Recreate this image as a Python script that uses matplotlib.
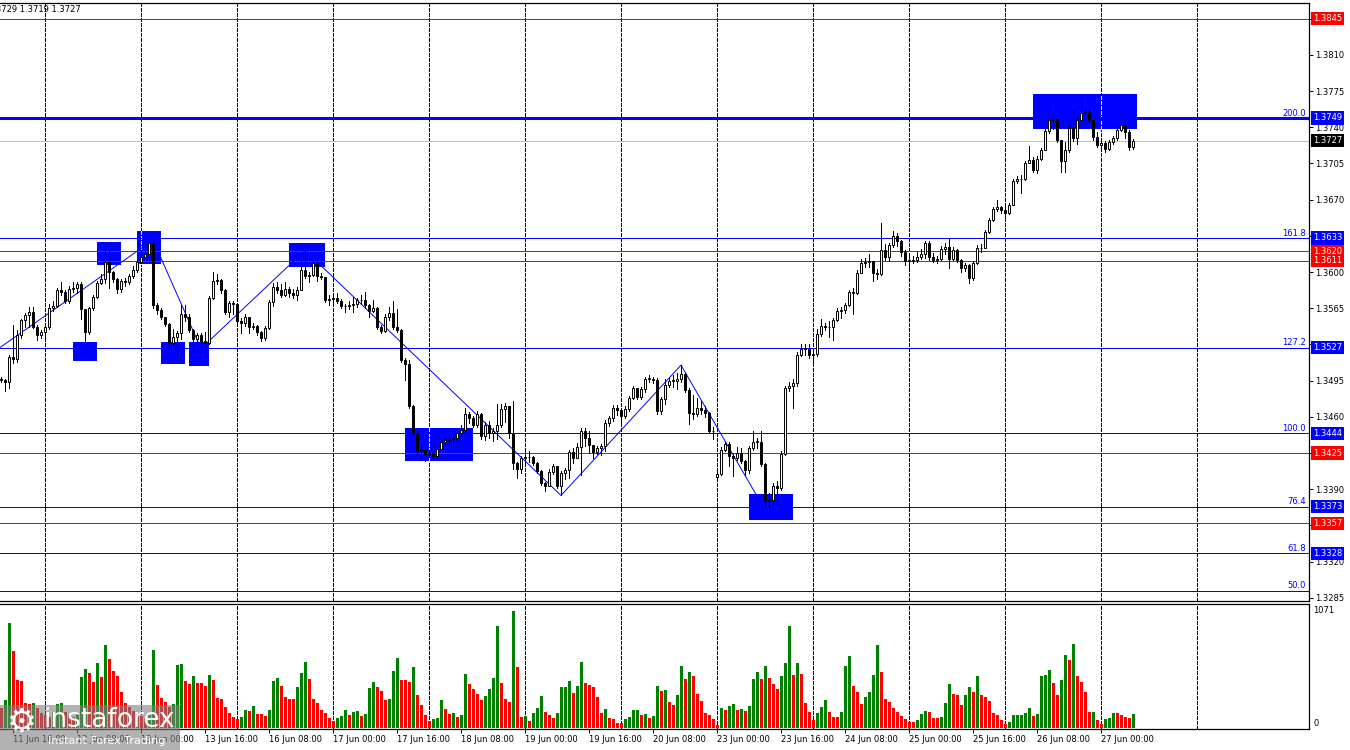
import matplotlib.pyplot as plt
import matplotlib.transforms as mtransforms
from matplotlib.patches import Rectangle
import numpy as np

plt.rcParams['font.family'] = ['DejaVu Sans']

# ---- values (hourly candles, 284 bars) ----
first_open = 1.3497
gap_opens = {179: 1.3402}  # monday open after the weekend gap

closes = [
    1.3496, 1.3494, 1.3518, 1.3516, 1.3539, 1.3554, 1.3558, 1.3561, 1.3547, 1.3539,
    1.3542, 1.3547, 1.3565, 1.3567, 1.3583, 1.3581, 1.3572, 1.3584, 1.3585, 1.3588,
    1.3564, 1.3542, 1.3565, 1.3576, 1.3589, 1.3593, 1.3610, 1.3600, 1.3593, 1.3584,
    1.3591, 1.3590, 1.3596, 1.3602, 1.3610, 1.3615, 1.3617, 1.3628, 1.3568, 1.3563,
    1.3557, 1.3550, 1.3531, 1.3537, 1.3541, 1.3559, 1.3557, 1.3544, 1.3535, 1.3539,
    1.3533, 1.3531, 1.3575, 1.3591, 1.3592, 1.3583, 1.3561, 1.3570, 1.3569, 1.3553,
    1.3551, 1.3557, 1.3547, 1.3548, 1.3542, 1.3536, 1.3546, 1.3571, 1.3586, 1.3583,
    1.3578, 1.3584, 1.3580, 1.3578, 1.3583, 1.3602, 1.3596, 1.3597, 1.3609, 1.3596,
    1.3595, 1.3573, 1.3574, 1.3575, 1.3572, 1.3567, 1.3567, 1.3568, 1.3569, 1.3573,
    1.3573, 1.3568, 1.3562, 1.3565, 1.3547, 1.3543, 1.3557, 1.3560, 1.3547, 1.3544,
    1.3515, 1.3511, 1.3470, 1.3444, 1.3427, 1.3428, 1.3424, 1.3425, 1.3422, 1.3429,
    1.3436, 1.3438, 1.3439, 1.3440, 1.3444, 1.3447, 1.3463, 1.3459, 1.3452, 1.3463,
    1.3441, 1.3452, 1.3444, 1.3446, 1.3452, 1.3468, 1.3470, 1.3444, 1.3415, 1.3410,
    1.3420, 1.3421, 1.3421, 1.3415, 1.3408, 1.3396, 1.3393, 1.3407, 1.3412, 1.3393,
    1.3406, 1.3409, 1.3426, 1.3420, 1.3431, 1.3446, 1.3440, 1.3433, 1.3426, 1.3430,
    1.3432, 1.3454, 1.3459, 1.3469, 1.3467, 1.3461, 1.3468, 1.3478, 1.3488, 1.3479,
    1.3487, 1.3497, 1.3497, 1.3496, 1.3466, 1.3477, 1.3491, 1.3495, 1.3495, 1.3497,
    1.3501, 1.3486, 1.3464, 1.3463, 1.3469, 1.3467, 1.3464, 1.3446, 1.3446, 1.3405,
    1.3428, 1.3434, 1.3422, 1.3420, 1.3425, 1.3417, 1.3409, 1.3430, 1.3436, 1.3436,
    1.3414, 1.3379, 1.3380, 1.3393, 1.3391, 1.3424, 1.3488, 1.3490, 1.3493, 1.3520,
    1.3526, 1.3526, 1.3520, 1.3521, 1.3540, 1.3548, 1.3547, 1.3547, 1.3554, 1.3562,
    1.3563, 1.3568, 1.3581, 1.3580, 1.3599, 1.3609, 1.3610, 1.3611, 1.3599, 1.3598,
    1.3621, 1.3615, 1.3626, 1.3635, 1.3630, 1.3619, 1.3611, 1.3611, 1.3612, 1.3615,
    1.3617, 1.3628, 1.3615, 1.3612, 1.3613, 1.3622, 1.3624, 1.3613, 1.3621, 1.3612,
    1.3604, 1.3607, 1.3594, 1.3609, 1.3623, 1.3623, 1.3639, 1.3650, 1.3661, 1.3663,
    1.3660, 1.3657, 1.3665, 1.3688, 1.3690, 1.3690, 1.3705, 1.3708, 1.3699, 1.3709,
    1.3718, 1.3736, 1.3747, 1.3748, 1.3728, 1.3707, 1.3718, 1.3739, 1.3730, 1.3747,
    1.3754, 1.3755, 1.3747, 1.3731, 1.3723, 1.3725, 1.3719, 1.3726, 1.3730, 1.3737,
    1.3742, 1.3735, 1.3721, 1.3727,
]

highs = [
    1.3499, 1.3497, 1.3520, 1.3549, 1.3544, 1.3555, 1.3560, 1.3566, 1.3566, 1.3549,
    1.3544, 1.3549, 1.3569, 1.3572, 1.3585, 1.3590, 1.3583, 1.3587, 1.3590, 1.3590,
    1.3590, 1.3564, 1.3566, 1.3578, 1.3591, 1.3598, 1.3622, 1.3622, 1.3601, 1.3594,
    1.3593, 1.3594, 1.3598, 1.3606, 1.3612, 1.3620, 1.3620, 1.3630, 1.3631, 1.3570,
    1.3565, 1.3557, 1.3551, 1.3545, 1.3543, 1.3568, 1.3568, 1.3559, 1.3545, 1.3541,
    1.3541, 1.3542, 1.3577, 1.3600, 1.3598, 1.3593, 1.3584, 1.3572, 1.3572, 1.3569,
    1.3556, 1.3559, 1.3557, 1.3551, 1.3549, 1.3543, 1.3548, 1.3573, 1.3589, 1.3590,
    1.3588, 1.3590, 1.3586, 1.3584, 1.3586, 1.3612, 1.3621, 1.3600, 1.3612, 1.3614,
    1.3599, 1.3595, 1.3578, 1.3578, 1.3580, 1.3574, 1.3569, 1.3572, 1.3576, 1.3575,
    1.3578, 1.3581, 1.3569, 1.3573, 1.3566, 1.3549, 1.3559, 1.3566, 1.3572, 1.3564,
    1.3545, 1.3517, 1.3515, 1.3471, 1.3445, 1.3433, 1.3431, 1.3428, 1.3427, 1.3431,
    1.3438, 1.3440, 1.3443, 1.3444, 1.3448, 1.3452, 1.3469, 1.3465, 1.3461, 1.3466,
    1.3464, 1.3455, 1.3456, 1.3449, 1.3472, 1.3472, 1.3473, 1.3470, 1.3475, 1.3416,
    1.3422, 1.3426, 1.3427, 1.3422, 1.3416, 1.3409, 1.3397, 1.3410, 1.3414, 1.3412,
    1.3408, 1.3411, 1.3428, 1.3430, 1.3435, 1.3449, 1.3449, 1.3446, 1.3433, 1.3432,
    1.3434, 1.3457, 1.3461, 1.3471, 1.3471, 1.3467, 1.3470, 1.3480, 1.3490, 1.3488,
    1.3489, 1.3499, 1.3500, 1.3499, 1.3498, 1.3479, 1.3497, 1.3499, 1.3500, 1.3502,
    1.3510, 1.3502, 1.3488, 1.3481, 1.3478, 1.3475, 1.3470, 1.3465, 1.3450, 1.3407,
    1.3431, 1.3436, 1.3436, 1.3424, 1.3431, 1.3430, 1.3418, 1.3432, 1.3446, 1.3440,
    1.3446, 1.3415, 1.3386, 1.3396, 1.3398, 1.3427, 1.3490, 1.3494, 1.3497, 1.3523,
    1.3530, 1.3530, 1.3530, 1.3524, 1.3545, 1.3555, 1.3551, 1.3553, 1.3556, 1.3565,
    1.3566, 1.3570, 1.3583, 1.3585, 1.3602, 1.3613, 1.3614, 1.3617, 1.3611, 1.3603,
    1.3647, 1.3627, 1.3628, 1.3640, 1.3638, 1.3631, 1.3621, 1.3615, 1.3616, 1.3619,
    1.3622, 1.3630, 1.3630, 1.3618, 1.3616, 1.3625, 1.3628, 1.3633, 1.3624, 1.3622,
    1.3613, 1.3609, 1.3608, 1.3611, 1.3626, 1.3627, 1.3641, 1.3652, 1.3663, 1.3670,
    1.3664, 1.3666, 1.3667, 1.3690, 1.3693, 1.3694, 1.3707, 1.3722, 1.3711, 1.3712,
    1.3720, 1.3738, 1.3763, 1.3751, 1.3747, 1.3728, 1.3726, 1.3741, 1.3756, 1.3749,
    1.3770, 1.3761, 1.3758, 1.3746, 1.3735, 1.3727, 1.3727, 1.3728, 1.3732, 1.3740,
    1.3745, 1.3744, 1.3737, 1.3729,
]

lows = [
    1.3494, 1.3485, 1.3488, 1.3512, 1.3513, 1.3536, 1.3547, 1.3547, 1.3546, 1.3534,
    1.3536, 1.3535, 1.3545, 1.3562, 1.3566, 1.3578, 1.3570, 1.3570, 1.3581, 1.3580,
    1.3555, 1.3523, 1.3540, 1.3563, 1.3575, 1.3588, 1.3589, 1.3585, 1.3590, 1.3580,
    1.3581, 1.3587, 1.3588, 1.3594, 1.3600, 1.3609, 1.3613, 1.3617, 1.3565, 1.3559,
    1.3555, 1.3548, 1.3526, 1.3529, 1.3520, 1.3535, 1.3553, 1.3542, 1.3523, 1.3523,
    1.3523, 1.3517, 1.3530, 1.3574, 1.3588, 1.3580, 1.3559, 1.3557, 1.3559, 1.3550,
    1.3541, 1.3548, 1.3541, 1.3545, 1.3539, 1.3533, 1.3534, 1.3545, 1.3567, 1.3580,
    1.3576, 1.3577, 1.3576, 1.3575, 1.3573, 1.3583, 1.3594, 1.3590, 1.3596, 1.3591,
    1.3593, 1.3571, 1.3568, 1.3570, 1.3570, 1.3565, 1.3561, 1.3564, 1.3561, 1.3566,
    1.3569, 1.3565, 1.3557, 1.3561, 1.3545, 1.3541, 1.3542, 1.3554, 1.3545, 1.3542,
    1.3513, 1.3496, 1.3469, 1.3441, 1.3424, 1.3421, 1.3417, 1.3421, 1.3419, 1.3421,
    1.3428, 1.3432, 1.3433, 1.3436, 1.3437, 1.3440, 1.3445, 1.3454, 1.3450, 1.3450,
    1.3439, 1.3438, 1.3440, 1.3437, 1.3439, 1.3450, 1.3455, 1.3440, 1.3410, 1.3401,
    1.3406, 1.3416, 1.3416, 1.3413, 1.3406, 1.3394, 1.3388, 1.3394, 1.3405, 1.3391,
    1.3384, 1.3400, 1.3401, 1.3415, 1.3420, 1.3404, 1.3432, 1.3425, 1.3420, 1.3424,
    1.3423, 1.3427, 1.3451, 1.3456, 1.3462, 1.3453, 1.3459, 1.3466, 1.3477, 1.3477,
    1.3477, 1.3484, 1.3494, 1.3493, 1.3463, 1.3463, 1.3472, 1.3489, 1.3489, 1.3487,
    1.3494, 1.3484, 1.3453, 1.3458, 1.3461, 1.3463, 1.3460, 1.3444, 1.3439, 1.3400,
    1.3404, 1.3427, 1.3412, 1.3403, 1.3418, 1.3415, 1.3404, 1.3406, 1.3428, 1.3430,
    1.3412, 1.3374, 1.3373, 1.3375, 1.3375, 1.3389, 1.3423, 1.3485, 1.3469, 1.3490,
    1.3519, 1.3520, 1.3517, 1.3510, 1.3519, 1.3538, 1.3544, 1.3537, 1.3534, 1.3553,
    1.3556, 1.3560, 1.3567, 1.3559, 1.3579, 1.3599, 1.3605, 1.3605, 1.3591, 1.3593,
    1.3597, 1.3612, 1.3611, 1.3624, 1.3625, 1.3616, 1.3607, 1.3604, 1.3609, 1.3610,
    1.3613, 1.3614, 1.3612, 1.3610, 1.3609, 1.3612, 1.3617, 1.3604, 1.3612, 1.3610,
    1.3600, 1.3601, 1.3589, 1.3592, 1.3608, 1.3619, 1.3625, 1.3638, 1.3649, 1.3659,
    1.3657, 1.3653, 1.3656, 1.3665, 1.3686, 1.3676, 1.3689, 1.3705, 1.3697, 1.3696,
    1.3708, 1.3718, 1.3734, 1.3738, 1.3726, 1.3697, 1.3697, 1.3716, 1.3727, 1.3724,
    1.3747, 1.3752, 1.3744, 1.3728, 1.3721, 1.3720, 1.3716, 1.3718, 1.3724, 1.3728,
    1.3736, 1.3730, 1.3718, 1.3719,
]

volumes = [
    180, 256, 964, 708, 439, 433, 226, 218, 225, 180,
    140, 120, 100, 150, 220, 225, 150, 120, 100, 134,
    470, 540, 506, 424, 598, 470, 760, 631, 525, 476,
    332, 226, 190, 160, 130, 110, 90, 120, 714, 393,
    278, 235, 189, 220, 576, 586, 433, 403, 476, 415,
    412, 384, 485, 439, 271, 262, 189, 134, 104, 82,
    104, 165, 156, 201, 128, 125, 110, 165, 433, 457,
    384, 287, 265, 262, 378, 506, 607, 448, 265, 226,
    165, 134, 95, 67, 88, 110, 165, 119, 150, 156,
    110, 128, 369, 421, 372, 342, 256, 265, 522, 644,
    439, 435, 424, 561, 302, 210, 119, 67, 82, 95,
    256, 174, 128, 134, 104, 119, 494, 403, 357, 311,
    256, 293, 357, 457, 933, 415, 265, 241, 1071, 561,
    104, 110, 67, 140, 186, 293, 150, 122, 95, 140,
    372, 375, 433, 323, 384, 607, 415, 393, 378, 287,
    140, 174, 92, 85, 49, 43, 82, 104, 165, 167,
    119, 128, 92, 110, 384, 342, 348, 241, 210, 302,
    567, 451, 512, 476, 311, 250, 134, 119, 82, 27,
    186, 165, 201, 220, 165, 174, 156, 201, 448, 512,
    448, 567, 457, 403, 354, 476, 598, 933, 485, 598,
    494, 232, 146, 73, 140, 195, 256, 150, 104, 98,
    146, 570, 659, 384, 332, 220, 287, 329, 485, 760,
    515, 262, 241, 180, 150, 110, 82, 58, 55, 73,
    128, 156, 146, 95, 93, 101, 229, 403, 311, 302,
    210, 302, 375, 332, 476, 302, 284, 247, 134, 122,
    73, 37, 55, 119, 120, 121, 137, 183, 110, 128,
    476, 485, 531, 412, 302, 439, 668, 622, 769, 476,
    424, 329, 146, 147, 73, 37, 82, 92, 137, 136,
    119, 101, 92, 128,
]

# horizontal levels
level_prices = [1.3845, 1.3749, 1.3727, 1.3633, 1.3620, 1.3611, 1.3527,
                1.3444, 1.3425, 1.3373, 1.3357, 1.3328, 1.3292]
level_kinds = ['red', 'blue', 'price', 'blue', 'red', 'red', 'blue',
               'blue', 'red', 'blue', 'red', 'blue', 'blue']

fib_prices = [1.3749, 1.3633, 1.3527, 1.3444, 1.3373, 1.3328, 1.3292]
fib_labels = ['200.0', '161.8', '127.2', '100.0', '76.4', '61.8', '50.0']

# zigzag (bar index, price)
zigzag_idx = [-0.25, 38, 50, 76, 140, 170, 191]
zigzag_price = [1.3527, 1.3631, 1.3526, 1.3621, 1.3384, 1.3510, 1.3370]

# highlighted zones (bar range, price range)
box_left = [18, 24, 34, 40, 47, 72, 101, 187, 258]
box_right = [24, 30, 40, 46, 52, 81, 118, 198, 284]
box_low = [1.3514, 1.3607, 1.3608, 1.3511, 1.3509, 1.3605, 1.3417, 1.3360, 1.3738]
box_high = [1.3532, 1.3629, 1.3640, 1.3532, 1.3532, 1.3628, 1.3449, 1.3385, 1.3772]

price_ticks = ['1.3285', '1.3320', '1.3355', '1.3390', '1.3425', '1.3460', '1.3495',
               '1.3530', '1.3565', '1.3600', '1.3635', '1.3670', '1.3705', '1.3740',
               '1.3775', '1.3810', '1.3845']

time_labels = ['11 Jun 16:00', '12 Jun 08:00', '13 Jun 00:00', '13 Jun 16:00',
               '16 Jun 08:00', '17 Jun 00:00', '17 Jun 16:00', '18 Jun 08:00',
               '19 Jun 00:00', '19 Jun 16:00', '20 Jun 08:00', '23 Jun 00:00',
               '23 Jun 16:00', '24 Jun 08:00', '25 Jun 00:00', '25 Jun 16:00',
               '26 Jun 08:00', '27 Jun 00:00']
time_label_bar = [3, 19, 35, 51, 67, 83, 99, 115, 131, 147, 163, 179,
                  195, 211, 227, 243, 259, 275]
day_start_bar = [11, 35, 59, 83, 107, 131, 155, 179, 203, 227, 251, 275, 299]

ohlc_text = '1.3729 1.3719 1.3727'

# ---- layout ----
W, H = 1350, 750
BLUE, RED, GREEN = '#0000ff', '#ff0000', '#008000'
FS = 6.0
PX = 72 / 100  # one pixel in points


def fx(px):
    return px / W


def fy(py):
    return 1 - py / H


fig = plt.figure(figsize=(W / 100, H / 100), dpi=100)
fig.patch.set_facecolor('white')
ax = fig.add_axes([0, fy(601), fx(1309), (601 - 3) / H])
vax = fig.add_axes([0, fy(729), fx(1309), (729 - 604) / H])

n = len(closes)
idx = np.arange(n)
c = np.array(closes)
opens = [first_open] + closes[:-1]
for k, v in gap_opens.items():
    opens[k] = v
o = np.array(opens)
h = np.maximum(np.array(highs), np.maximum(o, c))
l = np.minimum(np.array(lows), np.minimum(o, c))

xmin, xmax = -0.25, 327.0
ax.set_xlim(xmin, xmax)
ax.set_ylim(1.32819, 1.38602)
vax.set_xlim(xmin, xmax)
vax.set_ylim(-9.15, 1134)

dash = (0, (3, 2))
for d in day_start_bar:
    ax.axvline(d, color='black', lw=PX, ls=dash, antialiased=False, zorder=1.5)
    vax.axvline(d, color='black', lw=PX, ls=dash, antialiased=False, zorder=0.5)

# zones
for bl, br, lo, hi in zip(box_left, box_right, box_low, box_high):
    ax.add_patch(Rectangle((bl, lo), br - bl, hi - lo, facecolor=BLUE,
                           edgecolor='none', zorder=1))
    for d in day_start_bar:
        if bl < d < br:
            ax.vlines(d, lo, hi, color='yellow', lw=PX, ls=dash,
                      antialiased=False, zorder=1.6)

# levels
kind_color = {'red': RED, 'blue': BLUE, 'price': '#c0c0c0'}
for p, kind in zip(level_prices, level_kinds):
    lw = 3 * PX if p == 1.3749 else PX
    ax.axhline(p, color=kind_color[kind], lw=lw, antialiased=False, zorder=2)

ax.plot(zigzag_idx, zigzag_price, color=BLUE, lw=0.7, zorder=2.5)

# candles
ax.vlines(idx, l, h, color='black', lw=PX, antialiased=False, zorder=4)
up = c >= o
body_bot = np.minimum(o, c)
body_h = np.maximum(np.abs(c - o), 0.00002)
ax.bar(idx[up], body_h[up], bottom=body_bot[up], width=0.6, color='white',
       edgecolor='black', lw=0.7, zorder=5)
ax.bar(idx[~up], body_h[~up], bottom=body_bot[~up], width=0.6, color='black',
       edgecolor='black', lw=0.7, zorder=5)

# volumes
vol = np.array(volumes)
vcol = [RED] + [GREEN if vol[i] > vol[i - 1] else RED for i in range(1, n)]
vax.bar(idx, vol, width=0.75, color=vcol, lw=0, zorder=2)

# axes styling
for a in (ax, vax):
    a.spines['left'].set_visible(False)
    for s in ('top', 'right', 'bottom'):
        a.spines[s].set_linewidth(0.9)
        a.spines[s].set_color('black')
    a.set_facecolor('white')

ax.yaxis.tick_right()
ax.set_yticks([float(t) for t in price_ticks])
ax.set_yticklabels(price_ticks, fontsize=FS)
ax.tick_params(axis='y', direction='out', length=3, width=0.7, pad=1.5)
ax.set_xticks([])

vax.set_yticks([])
vax.set_xticks(time_label_bar)
vax.set_xticklabels(time_labels, fontsize=FS, ha='left')
vax.tick_params(axis='x', direction='out', length=3, width=0.7, pad=1.5)

trans = mtransforms.blended_transform_factory(ax.transAxes, ax.transData)
label_bg = {'red': RED, 'blue': BLUE, 'price': 'black'}
for p, kind in zip(level_prices, level_kinds):
    if p == 1.3292:
        continue
    ax.text(1.0 + 4 / 1309, p, f'{p:.4f}', transform=trans, ha='left',
            va='center', fontsize=FS, color='white', clip_on=False, zorder=6,
            bbox=dict(boxstyle='square,pad=0.25', fc=label_bg[kind], ec='none'))

for p, lab in zip(fib_prices, fib_labels):
    ax.text(1.0 - 3 / 1309, p + 0.00003, lab, transform=trans, ha='right',
            va='bottom', fontsize=FS, color=BLUE, zorder=6)

vtrans = mtransforms.blended_transform_factory(vax.transAxes, vax.transData)
vax.text(1.0 + 4 / 1309, max(volumes), str(max(volumes)), transform=vtrans,
         ha='left', va='center', fontsize=FS, clip_on=False)
vax.text(1.0 + 4 / 1309, 0, '0', transform=vtrans, ha='left', va='bottom',
         fontsize=FS, clip_on=False)

fig.text(fx(81), fy(10), ohlc_text, ha='right', va='center', fontsize=FS)

# watermark
fig.patches.append(Rectangle((0, fy(750)), fx(180), 45 / H,
                             transform=fig.transFigure, facecolor='#808080',
                             alpha=0.6, edgecolor='none', zorder=20))
fig.text(fx(22), fy(722), '\u2699', fontsize=24, color='white', ha='center',
         va='center', zorder=21)
fig.text(fx(43), fy(720), 'instaforex', fontsize=19, color='white', ha='left',
         va='center', zorder=21)
fig.text(fx(48), fy(741), 'Instant Forex Trading', fontsize=8, color='white',
         ha='left', va='center', zorder=21)

fig.savefig('out.png', dpi=100)
